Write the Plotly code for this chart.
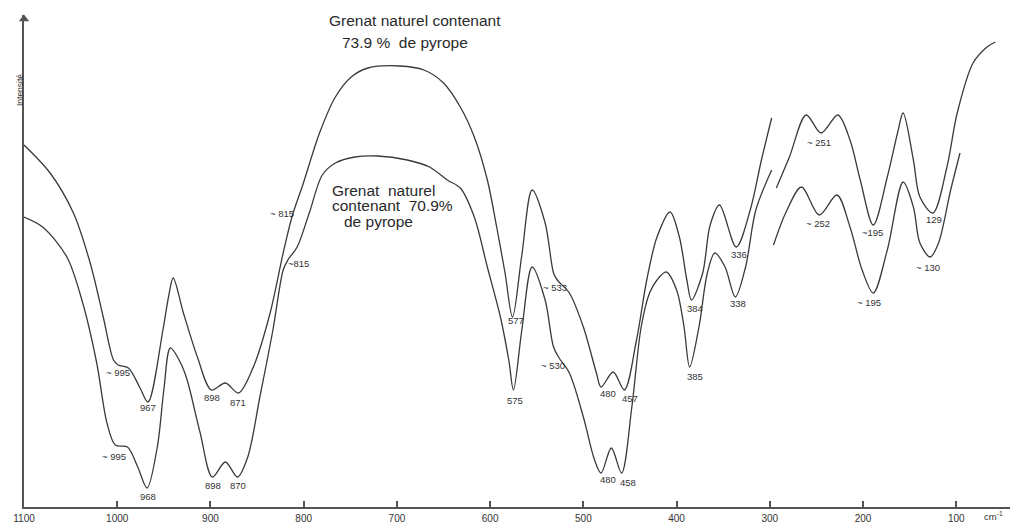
import plotly.graph_objects as go

# ---- Grenat naturel contenant 73.9 % de pyrope ----
# partie 1 (1100 -> ~300 cm-1)
wn_739_a = [1100, 1072, 1047, 1029, 1015, 1004, 999, 988, 976, 967,
            951, 945, 940, 929, 914, 899, 884, 870, 854, 836,
            822, 812, 801, 783, 766, 749, 731, 697, 671, 650,
            632, 617, 603, 593, 584, 576, 566, 555, 541, 532,
            528, 515, 500, 486, 481, 468, 456, 443, 432, 421,
            407, 397, 389, 384, 372, 364, 354, 336, 321, 309,
            298]
int_739_a = [362, 334, 294, 244, 190, 147, 142, 139, 120, 105,
             177, 210, 229, 194, 150, 117, 124, 114, 140, 194,
             254, 292, 322, 374, 410, 430, 439, 441, 437, 424,
             400, 370, 327, 280, 234, 190, 252, 317, 284, 234,
             227, 214, 180, 134, 120, 135, 117, 167, 227, 270,
             295, 270, 227, 207, 234, 282, 302, 260, 297, 347,
             389]
# partie 2 (~300 -> 60 cm-1)
wn_739_b = [293, 279, 261, 245, 227, 214, 203, 189, 174, 163,
            157, 146, 139, 125, 110, 99, 82, 67, 58]
int_739_b = [319, 350, 392, 374, 392, 367, 327, 282, 330, 374,
             394, 347, 310, 294, 340, 394, 444, 460, 465]

# ---- Grenat naturel contenant 70.9 % de pyrope ----
wn_709_a = [1100, 1080, 1054, 1037, 1022, 1011, 1002, 989, 978, 968,
            957, 950, 943, 932, 925, 911, 898, 884, 871, 860,
            847, 833, 822, 817, 807, 794, 780, 766, 745, 721,
            689, 665, 646, 632, 617, 603, 589, 580, 575, 566,
            555, 541, 532, 526, 515, 500, 488, 481, 470, 459,
            448, 438, 429, 421, 411, 400, 392, 386, 376, 367,
            359, 348, 337, 326, 315, 298]
int_709_a = [290, 280, 250, 204, 144, 84, 62, 60, 40, 19,
             60, 117, 159, 144, 127, 74, 30, 45, 30, 50,
             110, 177, 237, 247, 260, 294, 332, 344, 350, 351,
             347, 340, 327, 319, 290, 240, 190, 147, 117, 177,
             240, 207, 160, 149, 134, 90, 47, 34, 59, 34,
             100, 180, 214, 227, 235, 217, 180, 140, 180, 234,
             254, 240, 210, 240, 297, 337]
wn_709_b = [296, 283, 266, 247, 228, 214, 201, 189, 174, 157,
            146, 139, 128, 119, 106, 96]
int_709_b = [262, 294, 320, 292, 312, 280, 237, 214, 257, 325,
             300, 264, 250, 264, 317, 354]

# ---- Repères des bandes (texte, nombre d'onde, intensité) ----
band_text = ["~ 995", "967", "898", "871", "~ 815", "577", "~ 533", "480", "457",
             "384", "336", "~ 251", "~195", "129",
             "~ 995", "968", "898", "870", "~815", "575", "~ 530", "480", "458",
             "385", "338", "~ 252", "~ 195", "~ 130"]
band_wn = [999, 967, 898, 870, 823, 572, 530, 474, 450,
           380, 333, 247, 190, 124,
           1004, 967, 897, 870, 806, 573, 533, 474, 452,
           380, 334, 248, 194, 130]
band_int = [135, 100, 110, 105, 294, 187, 220, 114, 109,
            199, 253, 365, 275, 288,
            51, 11, 22, 22, 244, 107, 142, 28, 25,
            131, 204, 284, 205, 240]

x_ticks = [1100, 1000, 900, 800, 700, 600, 500, 400, 300, 200, 100]
x_range = [1100, 37]
y_range = [0, 492]

LINE = "#3a3a3a"
AX = "#555555"
FONT = "Liberation Sans"

fig = go.Figure()
for wn, it in [(wn_739_a, int_739_a), (wn_739_b, int_739_b),
               (wn_709_a, int_709_a), (wn_709_b, int_709_b)]:
    fig.add_trace(go.Scatter(x=wn, y=it, mode="lines",
                             line=dict(color=LINE, width=1.3, shape="spline", smoothing=0.9),
                             hoverinfo="skip", showlegend=False))

# arrowheads at the ends of both axes
fig.add_trace(go.Scatter(x=[x_range[1] + 3], y=[y_range[0]], mode="markers", cliponaxis=False,
                         marker=dict(symbol="triangle-right", size=9, color=AX),
                         hoverinfo="skip", showlegend=False))
fig.add_trace(go.Scatter(x=[x_range[0]], y=[y_range[1] - 4], mode="markers", cliponaxis=False,
                         marker=dict(symbol="triangle-up", size=9, color=AX),
                         hoverinfo="skip", showlegend=False))

ann = []
for t, w, i in zip(band_text, band_wn, band_int):
    ann.append(dict(x=w, y=i, xref="x", yref="y", text=t, showarrow=False,
                    font=dict(family=FONT, size=9.5, color="#333")))
# titles
TF = dict(family=FONT, size=15.5, color="#2a2a2a")
ann.append(dict(x=0.3058, y=0.988, xref="paper", yref="paper", xanchor="left", yanchor="middle",
                text="Grenat naturel contenant", showarrow=False, font=TF))
ann.append(dict(x=0.3189, y=0.945, xref="paper", yref="paper", xanchor="left", yanchor="middle",
                text="73.9 %  de pyrope", showarrow=False, font=TF))
ann.append(dict(x=0.3088, y=0.6423, xref="paper", yref="paper", xanchor="left", yanchor="middle",
                text="Grenat  naturel", showarrow=False, font=TF))
ann.append(dict(x=0.3088, y=0.6118, xref="paper", yref="paper", xanchor="left", yanchor="middle",
                text="contenant  70.9%", showarrow=False, font=TF))
ann.append(dict(x=0.3209, y=0.5793, xref="paper", yref="paper", xanchor="left", yanchor="middle",
                text="de pyrope", showarrow=False, font=TF))
# axis labels
ann.append(dict(x=-0.0111, y=0.884, xref="paper", yref="paper", text="Intensité", textangle=-90,
                showarrow=False, font=dict(family=FONT, size=8.5, color="#333")))
ann.append(dict(x=0.978, y=-0.003, xref="paper", yref="paper", xanchor="center", yanchor="top",
                text="cm<sup>-1</sup>", showarrow=False,
                font=dict(family=FONT, size=9.5, color="#333")))

# page body adds an 8 px offset: figure is 1010x515 so it fills the 1018x523 window
fig.update_layout(
    width=1010, height=515,
    margin=dict(l=16, r=3, t=7, b=16, autoexpand=False),
    paper_bgcolor="white", plot_bgcolor="white",
    annotations=ann,
    xaxis=dict(range=x_range, tickvals=x_ticks, ticktext=[str(v) for v in x_ticks],
               ticks="inside", ticklen=6, tickwidth=1.5, tickcolor=AX,
               showgrid=False, zeroline=False, showline=True, linecolor=AX, linewidth=2,
               automargin=False, ticklabelstandoff=1,
               tickfont=dict(family=FONT, size=10, color="#333")),
    yaxis=dict(range=y_range, showticklabels=False, ticks="", showgrid=False, zeroline=False,
               showline=True, linecolor=AX, linewidth=2, automargin=False),
)
fig.write_html("out.html")
